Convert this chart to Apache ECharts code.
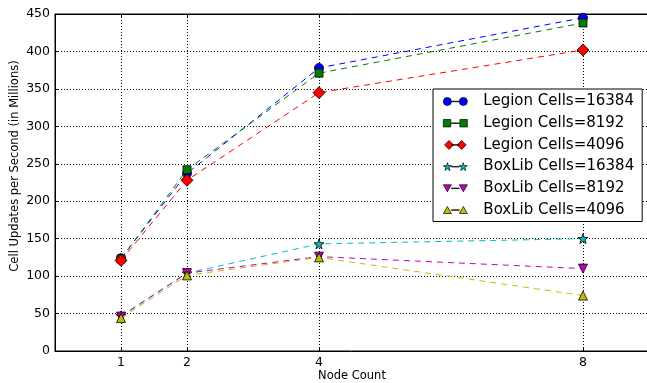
<!DOCTYPE html>
<html>
<head>
<meta charset="utf-8">
<script src="https://cdn.jsdelivr.net/npm/echarts@6/dist/echarts.min.js"></script>
<style>
html,body{margin:0;padding:0;background:#fff;}
#c{width:647px;height:383px;}
</style>
</head>
<body>
<div id="c"></div>
<script>
// ---- data ----
var nodeCounts = [1, 2, 4, 8];
var xTicks = [1, 2, 4, 8];
var yTicks = [0, 50, 100, 150, 200, 250, 300, 350, 400, 450];
var seriesNames = ['Legion Cells=16384', 'Legion Cells=8192', 'Legion Cells=4096',
                   'BoxLib Cells=16384', 'BoxLib Cells=8192', 'BoxLib Cells=4096'];
var legion16384 = [124, 237, 378, 445];
var legion8192  = [123, 242, 371, 438];
var legion4096  = [121, 228, 345, 402];
var boxlib16384 = [47, 104, 143, 150];
var boxlib8192  = [46, 104, 126, 110];
var boxlib4096  = [44, 101, 125, 74];

// ---- styles ----
var colors = ['#0000ff', '#008000', '#ff0000', '#00bfbf', '#bf00bf', '#bfbf00'];
var starPath = 'path://M0,-1 L0.2245,-0.309 L0.9511,-0.309 L0.3633,0.118 L0.5878,0.809 L0,0.382 L-0.5878,0.809 L-0.3633,0.118 L-0.9511,-0.309 L-0.2245,-0.309 Z';
var symbols = ['circle', 'rect', 'diamond', starPath, 'triangle', 'triangle'];
var symbolSizes = [9, 8, 12, [10, 10], 9, 9];
var symbolRotates = [0, 0, 0, 0, 180, 0];

// legend icons: marker - line - marker
function pair(shapeL, shapeR) {
  return 'path://' + shapeL + ' ' + shapeR + ' M8,3.7 L16,3.7 L16,4.3 L8,4.3 Z';
}
function circ(cx) { return 'M' + (cx - 4) + ',4 A4,4 0 1,1 ' + (cx + 4) + ',4 A4,4 0 1,1 ' + (cx - 4) + ',4 Z'; }
function sq(cx) { return 'M' + (cx - 3.6) + ',0.4 L' + (cx + 3.6) + ',0.4 L' + (cx + 3.6) + ',7.6 L' + (cx - 3.6) + ',7.6 Z'; }
function dia(cx) { return 'M' + cx + ',-1 L' + (cx + 5) + ',4 L' + cx + ',9 L' + (cx - 5) + ',4 Z'; }
function star(cx) {
  var p = [[0,-1],[0.2245,-0.309],[0.9511,-0.309],[0.3633,0.118],[0.5878,0.809],[0,0.382],[-0.5878,0.809],[-0.3633,0.118],[-0.9511,-0.309],[-0.2245,-0.309]];
  var s = '';
  for (var i = 0; i < p.length; i++) {
    s += (i === 0 ? 'M' : 'L') + (cx + p[i][0] * 4.4).toFixed(2) + ',' + (4.3 + p[i][1] * 4.4).toFixed(2) + ' ';
  }
  return s + 'Z';
}
function triDown(cx) { return 'M' + (cx - 4) + ',0.5 L' + (cx + 4) + ',0.5 L' + cx + ',7.5 Z'; }
function triUp(cx) { return 'M' + (cx - 4) + ',7.5 L' + (cx + 4) + ',7.5 L' + cx + ',0.5 Z'; }
var legendIcons = [
  pair(circ(4), circ(20)),
  pair(sq(4), sq(20)),
  pair(dia(5), dia(19)),
  pair(star(4), star(20)),
  pair(triDown(4), triDown(20)),
  pair(triUp(4), triUp(20))
];

var allData = [legion16384, legion8192, legion4096, boxlib16384, boxlib8192, boxlib4096];
var series = allData.map(function (vals, i) {
  return {
    name: seriesNames[i],
    type: 'line',
    data: nodeCounts.map(function (x, j) { return [x, vals[j]]; }),
    symbol: symbols[i],
    symbolSize: symbolSizes[i],
    symbolRotate: symbolRotates[i],
    showAllSymbol: true,
    lineStyle: { color: colors[i], width: 1, type: [6, 5] },
    itemStyle: { color: colors[i], borderColor: '#000', borderWidth: 0.8 },
    emphasis: { disabled: true },
    animation: false,
    z: 3 + i
  };
});

var font = 'DejaVu Sans';
var chart = echarts.init(document.getElementById('c'), null, { renderer: 'canvas' });
chart.setOption({
  animation: false,
  backgroundColor: '#fff',
  textStyle: { fontFamily: font, color: '#000' },
  grid: { left: 55, top: 14, width: 594, height: 337, show: true, borderColor: '#000', borderWidth: 1,
          containLabel: false, outerBoundsMode: 'none' },
  legend: {
    orient: 'vertical',
    left: 433, top: 89,
    padding: [5, 8, 4, 10],
    itemGap: 6.7,
    itemWidth: 24, itemHeight: 9,
    backgroundColor: '#fff',
    borderColor: '#000', borderWidth: 1,
    borderRadius: 0,
    textStyle: { fontFamily: font, fontSize: 15, color: '#000', padding: [0, 0, 0, 11], lineHeight: 15 },
    itemStyle: { borderColor: '#000', borderWidth: 0.7 },
    data: seriesNames.map(function (n, i) { return { name: n, icon: legendIcons[i] }; }),
    selectedMode: false
  },
  xAxis: [{
    type: 'value', min: 0, max: 9,
    name: 'Node Count', nameLocation: 'middle', nameGap: 19, nameMoveOverlap: false,
    nameTextStyle: { fontFamily: font, fontSize: 11.5, color: '#000' },
    axisLine: { show: true, lineStyle: { color: '#000', width: 1 } },
    axisTick: { show: true, inside: true, length: 4, customValues: xTicks, lineStyle: { color: '#000' } },
    axisLabel: { customValues: xTicks, fontFamily: font, fontSize: 12.5, color: '#000', margin: 5 },
    splitLine: { show: true, lineStyle: { color: '#000', width: 1, type: [1, 2] } }
  }, {
    type: 'value', min: 0, max: 9, position: 'top',
    axisLine: { show: true, lineStyle: { color: '#000', width: 1 } },
    axisTick: { show: true, inside: true, length: 4, customValues: xTicks, lineStyle: { color: '#000' } },
    axisLabel: { show: false },
    splitLine: { show: false }
  }],
  yAxis: {
    type: 'value', min: 0, max: 450, interval: 50,
    name: 'Cell Updates per Second (in Millions)', nameLocation: 'middle', nameGap: 34, nameMoveOverlap: false,
    nameTextStyle: { fontFamily: font, fontSize: 11.5, color: '#000', padding: [0, 0, 0, 33] },
    axisLine: { show: true, lineStyle: { color: '#000', width: 1 } },
    axisTick: { show: true, inside: true, length: 4, lineStyle: { color: '#000' } },
    axisLabel: { fontFamily: font, fontSize: 12.5, color: '#000', margin: 5,
      formatter: function (v) { return yTicks.indexOf(v) >= 0 ? String(v) : ''; } },
    splitLine: { show: true, lineStyle: { color: '#000', width: 1, type: [1, 2] } }
  },
  series: series
});
</script>
</body>
</html>
